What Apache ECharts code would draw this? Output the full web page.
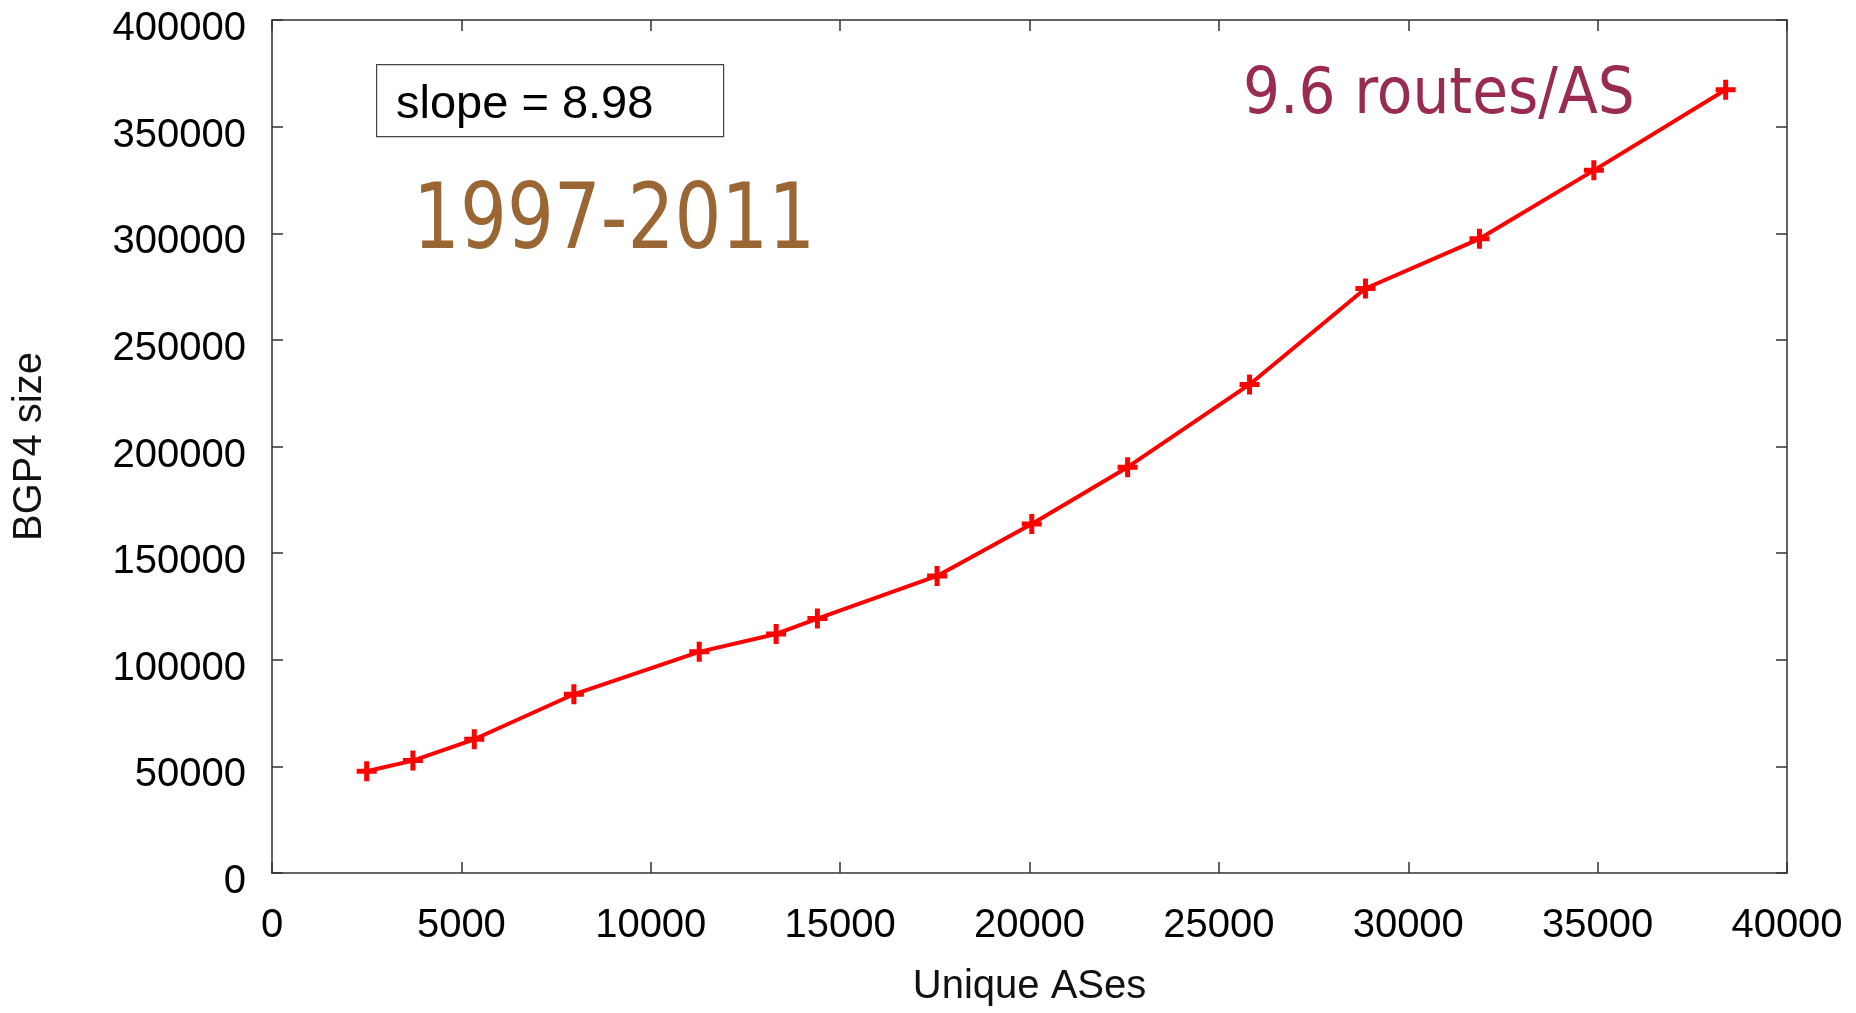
<!DOCTYPE html>
<html>
<head>
<meta charset="utf-8">
<script src="https://cdn.jsdelivr.net/npm/echarts@6/dist/echarts.min.js"></script>
<style>
  html, body { margin: 0; padding: 0; background: #fff; }
  #main { width: 1856px; height: 1013px; }
</style>
</head>
<body>
<div id="main"></div>
<script>
// unique ASes vs BGP4 table size
var asCount = [2500, 3720, 5340, 7970, 11280, 13310, 14400, 17560, 20060, 22590, 25810, 28870, 31880, 34900, 38380];
var bgpSize = [47700, 52700, 62700, 83800, 103700, 112100, 119300, 139300, 163700, 190300, 229100, 274100, 297400, 329500, 367300];
var xTicks = [0, 5000, 10000, 15000, 20000, 25000, 30000, 35000, 40000];
var yTicks = [0, 50000, 100000, 150000, 200000, 250000, 300000, 350000, 400000];

var points = [];
for (var i = 0; i < asCount.length; i++) {
    points.push([asCount[i], bgpSize[i]]);
}

var axisFont = 'Liberation Sans, Arial, sans-serif';
var lineCol = '#333';
var plus = 'path://M7.5,0H12.5V7.5H20V12.5H12.5V20H7.5V12.5H0V7.5H7.5Z';

function plain(v) { return String(v); }

// one axis config, used for the four sides of the box
function side(pos, ticks, withLabels) {
    var a = {
        type: 'value',
        position: pos,
        min: ticks[0], max: ticks[ticks.length - 1], interval: ticks[1] - ticks[0],
        axisLine: { show: true, onZero: false, lineStyle: { color: lineCol, width: 1.5 } },
        axisTick: { show: true, inside: true, length: 11, lineStyle: { color: lineCol, width: 1.5 } },
        axisLabel: { show: withLabels, formatter: plain, fontFamily: axisFont, fontSize: 40, color: '#000' },
        splitLine: { show: false }
    };
    return a;
}

var xb = side('bottom', xTicks, true);
xb.name = 'Unique ASes';
xb.nameLocation = 'middle';
xb.nameGap = 94;
xb.nameTextStyle = { fontFamily: axisFont, fontSize: 40, color: '#111' };
xb.axisLabel.margin = 33;

var yl = side('left', yTicks, true);
yl.name = 'BGP4 size';
yl.nameLocation = 'middle';
yl.nameGap = 222;
yl.nameTextStyle = { fontFamily: axisFont, fontSize: 40, color: '#111' };
yl.axisLabel.margin = 26;
// gnuplot labels sit a bit below their ticks
yl.axisLabel.formatter = function (v) { return '{v|' + v + '}'; };
yl.axisLabel.rich = { v: { fontFamily: axisFont, fontSize: 40, color: '#000', padding: [18, 0, 0, 0] } };

var myChart = echarts.init(document.getElementById('main'));
var option = {
    backgroundColor: '#fff',
    animation: false,
    grid: { left: 272, right: 69, top: 20, bottom: 140, containLabel: false, outerBoundsMode: 'none' },
    xAxis: [xb, side('top', xTicks, false)],
    yAxis: [yl, side('right', yTicks, false)],
    graphic: [
        {
            type: 'rect', left: 376, top: 64,
            shape: { width: 347, height: 72 },
            style: { fill: '#fff', stroke: '#444', lineWidth: 1.2 }
        },
        {
            type: 'text', left: 396, top: 82,
            style: { text: 'slope = 8.98', font: '47px Liberation Sans, Arial, sans-serif', fill: '#000' }
        },
        {
            type: 'text', x: 413, y: 180, scaleX: 0.82,
            style: { text: '1997-2011', font: '90px "Comic Sans MS", "DejaVu Sans", sans-serif', fill: '#9a6634' }
        },
        {
            type: 'text', x: 1243, y: 64, scaleX: 0.91,
            style: { text: '9.6 routes/AS', font: '64px "Comic Sans MS", "DejaVu Sans", sans-serif', fill: '#992a50' }
        }
    ],
    series: [{
        type: 'line',
        data: points,
        symbol: plus,
        symbolSize: 20,
        showAllSymbol: true,
        lineStyle: { color: '#ff0000', width: 4 },
        itemStyle: { color: '#ff0000' },
        z: 5
    }]
};
myChart.setOption(option);
</script>
</body>
</html>
